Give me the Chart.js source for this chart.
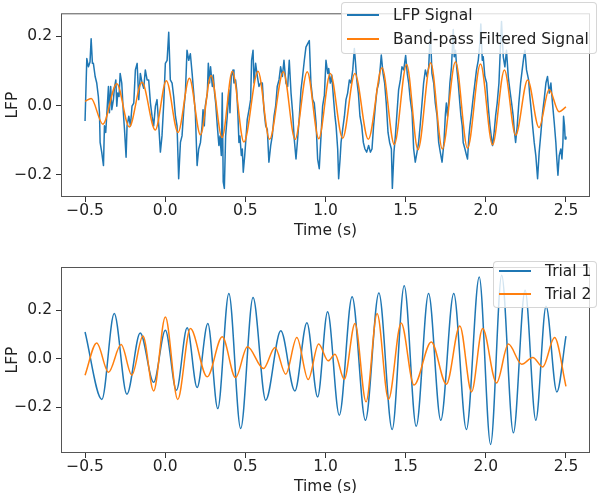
<!DOCTYPE html>
<html>
<head>
<meta charset="utf-8">
<script src="https://cdn.jsdelivr.net/npm/chart.js@4.4.1/dist/chart.umd.min.js"></script>
<style>
  html, body { margin:0; padding:0; background:#fff; width:600px; height:493px; overflow:hidden; }
  .panel { position:absolute; left:0; width:600px; }
  .lg { position:absolute; background:rgba(255,255,255,0.8); border:1px solid rgba(204,204,204,0.8); border-radius:4px;
        font:15.5px "DejaVu Sans", sans-serif; color:#222; box-sizing:border-box; }
  .lg .it { position:absolute; left:5px; height:20px; display:flex; align-items:center; white-space:nowrap; }
  .lg .it i { display:inline-block; width:32px; height:2px; margin-right:14px; }
</style>
</head>
<body>
<div class="panel" style="top:0;height:250px"><canvas id="top" width="600" height="250"></canvas></div>
<div class="panel" style="top:250px;height:260px"><canvas id="bot" width="600" height="260"></canvas></div>
<div id="lgTop" class="lg" style="left:341px;top:2px;width:256px;height:52px"></div>
<div id="lgBot" class="lg" style="left:493px;top:261px;width:104px;height:47px"></div>
<script>
// ---- data ----
const xTicks = [-0.5, 0.0, 0.5, 1.0, 1.5, 2.0, 2.5];
const topYTicks = [-0.2, 0.0, 0.2];
const botYTicks = [-0.2, 0.0, 0.2];
const topNames = ['LFP Signal', 'Band-pass Filtered Signal'];
const botNames = ['Trial 1', 'Trial 2'];

// raw LFP (jagged trace)
const lfpTime = [
  -0.500,-0.489,-0.479,-0.469,-0.462,-0.454,-0.448,-0.437,-0.427,-0.417,-0.410,-0.406,-0.396,-0.385,-0.379,-0.371,
  -0.365,-0.354,-0.348,-0.340,-0.333,-0.323,-0.317,-0.308,-0.302,-0.296,-0.288,-0.281,-0.271,-0.261,-0.254,-0.244,
  -0.238,-0.227,-0.217,-0.207,-0.196,-0.186,-0.175,-0.165,-0.155,-0.144,-0.134,-0.124,-0.113,-0.103,-0.092,-0.082,
  -0.072,-0.061,-0.051,-0.040,-0.030,-0.020,-0.009,0.001,0.012,0.022,0.032,0.043,0.053,0.064,0.074,0.084,
  0.095,0.105,0.116,0.126,0.136,0.147,0.157,0.168,0.178,0.188,0.199,0.209,0.220,0.230,
  0.236,0.244,0.250,0.263,0.269,0.277,0.283,0.294,0.300,0.308,0.315,0.325,0.335,0.342,0.350,0.356,
  0.362,0.369,0.377,0.387,0.398,0.404,0.412,0.423,0.429,0.439,0.446,0.454,0.460,0.466,0.475,0.481,
  0.487,0.496,0.502,0.512,0.523,0.533,0.539,0.548,0.554,0.564,0.575,0.585,0.595,0.606,0.616,0.627,
  0.637,0.647,0.658,0.668,0.679,0.689,0.699,0.710,0.720,0.731,0.741,0.753,0.764,0.774,0.785,0.795,
  0.805,0.816,0.826,0.837,0.847,0.857,0.868,0.878,0.889,0.899,0.909,0.920,0.930,0.941,0.951,0.961,
  0.972,0.982,0.993,1.003,1.014,1.020,1.030,1.039,1.049,1.059,1.066,1.076,1.082,1.091,1.097,1.107,
  1.118,1.128,1.138,1.149,1.159,1.170,1.180,1.186,1.195,1.205,1.215,1.226,1.236,1.246,1.257,1.269,
  1.280,1.290,1.300,1.311,1.321,1.332,1.342,1.348,1.359,1.369,1.379,1.390,1.400,1.411,1.417,1.427,
  1.436,1.446,1.456,1.467,1.477,1.488,1.500,1.510,1.519,1.529,1.540,1.550,1.560,1.571,1.581,1.592,
  1.602,1.612,1.623,1.633,1.644,1.654,1.664,1.675,1.685,1.696,1.706,1.716,1.727,1.739,1.748,
  1.754,1.761,1.770,1.776,1.786,1.797,1.803,1.811,1.818,1.828,1.838,1.845,1.853,1.859,1.870,1.880,
  1.886,1.895,1.901,1.911,1.922,1.932,1.942,1.953,1.963,1.969,1.978,1.984,1.994,2.005,2.015,2.026,
  2.036,2.042,2.052,2.061,2.071,2.082,2.092,2.098,2.109,2.119,2.129,2.140,2.150,2.161,2.171,2.177,
  2.186,2.196,2.206,2.217,2.227,2.237,2.244,2.254,2.267,2.273,2.283,2.292,2.302,2.312,2.323,2.333,
  2.344,2.354,2.364,2.375,2.385,2.396,2.406,2.416,2.427,2.437,2.443,2.450,2.458,2.468,2.475,2.481,
  2.485,2.491,2.495,2.500
];
const lfpValue = [
  -0.045,0.136,0.112,0.126,0.193,0.122,0.122,0.084,0.065,0.026,-0.021,-0.107,-0.135,-0.174,-0.059,-0.078,
  -0.031,0.055,-0.021,0.055,-0.012,0.017,0.050,0.074,-0.002,0.036,0.026,0.093,0.065,-0.021,-0.069,-0.150,
  -0.059,-0.031,-0.059,-0.002,0.007,0.103,0.122,0.017,0.093,0.065,0.050,0.103,0.074,0.074,0.007,-0.031,
  -0.059,-0.002,0.017,-0.059,-0.135,-0.088,0.007,0.122,0.131,0.212,0.074,0.065,0.026,-0.031,-0.059,-0.212,
  -0.107,-0.088,-0.012,0.036,0.160,0.131,0.150,0.093,0.036,-0.021,-0.174,-0.126,-0.107,-0.059,
  -0.012,-0.059,-0.002,0.036,0.122,0.065,0.112,0.055,0.088,0.036,0.007,-0.059,-0.116,-0.088,-0.145,0.036,
  -0.221,-0.240,-0.088,-0.031,0.045,-0.021,0.084,0.103,0.065,0.074,0.045,-0.031,-0.107,-0.088,-0.145,-0.126,
  -0.193,-0.145,-0.107,-0.040,-0.012,0.017,0.131,0.160,0.065,0.122,0.084,0.055,0.065,0.065,-0.012,-0.059,
  -0.069,-0.164,-0.116,-0.088,-0.031,-0.002,0.055,0.074,0.112,0.084,0.131,0.065,0.055,0.131,0.036,-0.021,
  -0.097,-0.155,-0.097,-0.031,0.045,0.084,0.131,0.169,0.179,0.188,0.065,0.017,0.007,-0.050,-0.155,-0.183,
  -0.088,-0.002,0.030,0.131,0.093,0.107,0.065,0.088,0.026,-0.031,-0.059,-0.126,-0.212,-0.155,-0.107,-0.069,
  -0.031,0.017,0.036,0.074,0.065,0.103,0.165,0.131,0.074,0.036,-0.031,-0.059,-0.107,-0.126,-0.135,-0.116,
  -0.135,-0.126,-0.059,-0.002,0.045,0.065,0.112,0.146,0.093,0.065,0.007,-0.078,-0.107,-0.126,-0.240,-0.135,
  -0.088,-0.021,0.045,0.074,0.112,0.103,0.145,0.093,0.065,0.017,-0.021,-0.126,-0.164,-0.135,-0.107,-0.050,
  0.007,0.065,0.103,0.084,0.112,0.220,0.093,0.065,0.007,-0.031,-0.107,-0.135,-0.164,-0.107,-0.025,
  0.007,-0.031,0.017,0.065,0.112,0.220,0.141,0.160,0.112,0.065,0.007,-0.031,-0.059,-0.107,-0.126,-0.145,
  -0.155,-0.088,-0.059,-0.021,0.026,0.065,0.103,0.131,0.179,0.236,0.131,0.141,0.084,0.065,-0.002,-0.059,
  -0.097,-0.116,-0.078,-0.031,0.007,0.065,0.179,0.243,0.141,0.112,0.160,0.084,0.045,0.007,-0.031,-0.069,
  -0.107,-0.059,0.007,0.065,0.103,0.141,0.160,0.103,0.074,0.036,-0.012,-0.059,-0.107,-0.145,-0.212,-0.135,
  -0.078,-0.021,0.017,0.065,0.084,0.036,0.065,0.007,-0.050,-0.107,-0.155,-0.202,-0.145,-0.126,-0.155,-0.107,
  -0.031,-0.059,-0.097,-0.090
];

// band-pass filtered signal (turning points)
const filtTime = [-0.500,-0.462,-0.389,-0.302,-0.224,-0.145,-0.062,0.007,0.080,0.151,0.220,0.286,0.355,0.419,
  0.491,0.579,0.651,0.737,0.810,0.886,0.958,1.030,1.107,1.183,1.267,1.353,1.429,1.506,1.577,1.656,1.729,
  1.811,1.886,1.967,2.042,2.116,2.186,2.261,2.332,2.395,2.457,2.500];
const filtValue = [0.012,0.020,-0.054,0.063,-0.062,0.067,-0.071,0.072,-0.078,0.079,-0.085,0.087,-0.093,0.099,
  -0.106,0.099,-0.098,0.098,-0.098,0.098,-0.096,0.093,-0.095,0.093,-0.098,0.109,-0.113,0.119,-0.128,0.124,-0.126,
  0.127,-0.124,0.120,-0.114,0.103,-0.086,0.074,-0.064,0.046,-0.018,-0.004];

// trial 1 / trial 2 (turning points)
const trial1Time = [-0.500,-0.395,-0.318,-0.239,-0.156,-0.072,0.001,0.070,0.137,0.199,0.266,0.328,0.397,0.471,
  0.548,0.627,0.721,0.809,0.884,0.951,1.013,1.086,1.166,1.249,1.333,1.416,1.491,1.566,1.643,1.719,1.800,1.879,
  1.959,2.030,2.099,2.172,2.245,2.312,2.376,2.443,2.500];
const trial1Value = [0.111,-0.167,0.187,-0.146,0.107,-0.096,0.118,-0.129,0.128,-0.118,0.146,-0.205,0.270,-0.287,
  0.253,-0.170,0.116,-0.132,0.149,-0.157,0.194,-0.232,0.256,-0.253,0.272,-0.291,0.302,-0.278,0.270,-0.253,0.270,-0.291,
  0.338,-0.353,0.345,-0.305,0.283,-0.253,0.217,-0.136,0.094];
const trial2Time = [-0.500,-0.427,-0.354,-0.275,-0.208,-0.139,-0.072,0.001,0.078,0.157,0.262,0.356,0.439,0.513,
  0.613,0.685,0.752,0.821,0.892,0.957,1.017,1.059,1.117,1.184,1.253,1.322,1.393,1.472,1.552,1.660,1.754,1.838,
  1.911,1.980,2.067,2.141,2.224,2.293,2.355,2.429,2.500];
const trial2Value = [-0.067,0.066,-0.055,0.059,-0.067,0.094,-0.132,0.173,-0.167,0.125,-0.074,0.091,-0.077,0.050,
  -0.040,0.047,-0.063,0.088,-0.085,0.061,-0.008,0.019,-0.084,0.146,-0.177,0.187,-0.167,0.148,-0.108,0.070,-0.104,0.136,
  -0.136,0.125,-0.099,0.061,-0.022,0.006,-0.033,0.088,-0.113];

const BLUE = '#1f77b4', ORANGE = '#ff7f0e';
const FONT = { family: '"DejaVu Sans", sans-serif', size: 15.5, lineHeight: 1.2 };

Chart.defaults.font.family = FONT.family;
Chart.defaults.color = '#222';

const pts = (xs, ys) => xs.map((x, i) => ({ x, y: ys[i] }));
const fmt = v => (Math.abs(v) < 1e-9 ? 0 : v).toFixed(1).replace('-', '\u2212');

// axes box (matplotlib draws all four spines)
const frame = {
  id: 'frame',
  afterDatasetsDraw(chart) {
    const { ctx, chartArea: a } = chart;
    ctx.save();
    ctx.strokeStyle = '#555';
    ctx.lineWidth = 1;
    ctx.strokeRect(a.left + 0.5, a.top + 0.5, a.right - a.left - 1, a.bottom - a.top - 1);
    ctx.restore();
  }
};

const line = (label, xs, ys, color, order, smooth) => ({
  label, data: pts(xs, ys), borderColor: color, backgroundColor: color,
  borderWidth: 1.5, pointRadius: 0, order, borderJoinStyle: 'round',
  tension: 0, cubicInterpolationMode: smooth ? 'monotone' : 'default'
});

const panel = (id, datasets, yMin, yMax, yTicks, padTop, xAxisH, titlePadBottom) => new Chart(document.getElementById(id), {
  type: 'line',
  data: { datasets },
  plugins: [frame],
  options: {
    responsive: false, animation: false, devicePixelRatio: 1,
    layout: { padding: { top: padTop, right: 10, left: 0, bottom: 0 } },
    plugins: { legend: { display: false }, tooltip: { enabled: false } },
    scales: {
      x: {
        type: 'linear', min: -0.65, max: 2.65,
        afterBuildTicks: s => { s.ticks = xTicks.map(v => ({ value: v })); },
        afterFit: s => { s.height = xAxisH; },
        ticks: { font: FONT, color: '#222', padding: 0, autoSkip: false, maxRotation: 0, callback: v => fmt(v) },
        grid: { drawOnChartArea: false, drawTicks: true, tickLength: 5, color: '#333' },
        border: { display: false },
        title: { display: true, text: 'Time (s)', font: FONT, color: '#222', padding: { top: 0, bottom: titlePadBottom } }
      },
      y: {
        type: 'linear', min: yMin, max: yMax,
        afterBuildTicks: s => { s.ticks = yTicks.map(v => ({ value: v })); },
        afterFit: s => { s.width = 61; },
        ticks: { font: FONT, color: '#222', padding: 4, callback: v => fmt(v) },
        grid: { drawOnChartArea: false, drawTicks: true, tickLength: 5, color: '#333' },
        border: { display: false },
        title: { display: true, text: 'LFP', font: FONT, color: '#222', padding: { top: 4, bottom: 0 } }
      }
    }
  }
});

panel('top', [
  line(topNames[0], lfpTime, lfpValue, BLUE, 2, false),
  line(topNames[1], filtTime, filtValue, ORANGE, 1, true)
], -0.265, 0.267, topYTicks, 11, 53, 9.5);

panel('bot', [
  line(botNames[0], trial1Time, trial1Value, BLUE, 2, true),
  line(botNames[1], trial2Time, trial2Value, ORANGE, 1, true)
], -0.388, 0.379, botYTicks, 17, 57, 13.5);

// legends (upper right, semi-transparent box like matplotlib)
const legend = (id, names, rows) => {
  document.getElementById(id).innerHTML = names.map((n, i) =>
    `<div class="it" style="top:${rows[i]}px"><i style="background:${[BLUE, ORANGE][i]}"></i><span>${n}</span></div>`).join('');
};
legend('lgTop', topNames, [2, 26]);
legend('lgBot', botNames, [-1, 22]);
</script>
</body>
</html>
